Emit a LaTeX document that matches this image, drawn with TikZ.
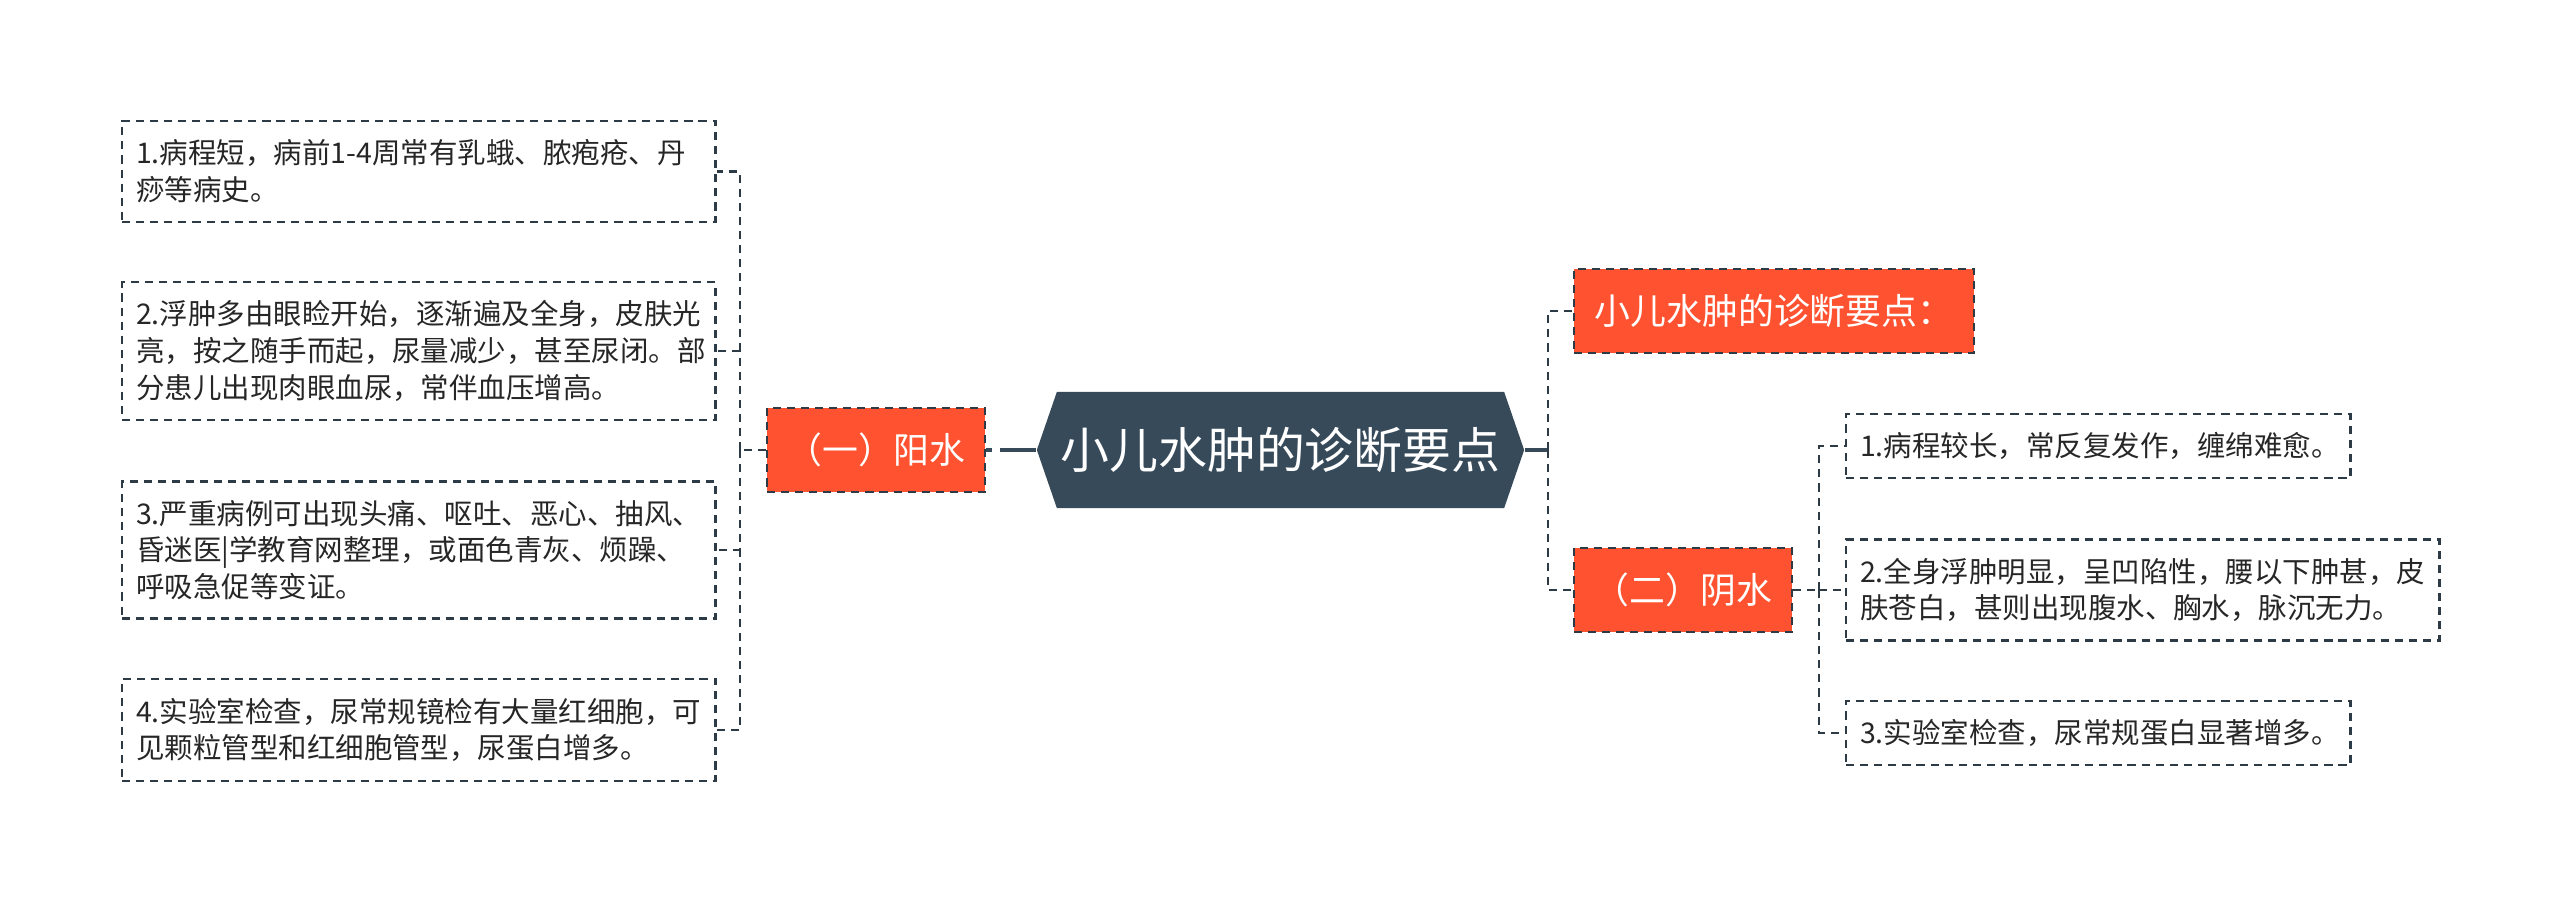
\documentclass[tikz,border=0pt]{standalone}
\usepackage{fontspec}
\newfontfamily\cjk{Noto Sans CJK SC}
\usepackage{tikz}
\usetikzlibrary{shapes.symbols, positioning}
\definecolor{hexfill}{HTML}{374A5A}
\definecolor{orangefill}{HTML}{FF5230}
\definecolor{linecol}{HTML}{2D3B47}
\definecolor{txtcol}{HTML}{262626}

\begin{document}
\begin{tikzpicture}[
    % GLOBAL CFG
    x=0.01cm, y=-0.01cm,
    % Styles
    dashpat/.style={% dashes of boxes and links
        dash pattern=on 2.3pt off 1.7pt
        },
    topic/.style={% the central hexagon
        signal,
        signal to=west and east,
        signal pointer angle=142,
        fill=hexfill,
        text=white,
        minimum width=4.87cm,
        minimum height=1.16cm,
        inner sep=0pt,
        font=\cjk\fontsize{13.9}{16}\selectfont
        },
    branch/.style={% orange sub topics
        rectangle,
        fill=orangefill,
        draw=linecol,
        line width=0.65pt,
        dashpat,
        text=white,
        minimum height=0.84cm,
        inner xsep=0.19cm,
        font=\cjk\fontsize{10.2}{12}\selectfont
        },
    leaf/.style={% dashed text boxes
        rectangle,
        draw=linecol,
        line width=0.65pt,
        dashpat,
        text=txtcol,
        align=left,
        anchor=west,
        inner xsep=0.14cm,
        inner ysep=0pt,
        font=\cjk\fontsize{8.1}{10.44}\selectfont
        },
    link/.style={% dashed connectors
        draw=linecol,
        line width=0.65pt,
        dashpat
        },
    thicklink/.style={% connectors at the central topic
        draw=hexfill,
        line width=1.1pt
        }
    ]

    \useasboundingbox (0,0) rectangle (2560,901);

    % Central topic
    \node [topic] (topic) at (1280.5,450) {小儿水肿的诊断要点};

    % Sub topics
    \node [branch, minimum width=2.18cm] (yang) at (876,450) {（一）阳水};
    \node [branch, minimum width=4.0cm] (note) at (1774,311) {小儿水肿的诊断要点：};
    \node [branch, minimum width=2.18cm] (yin) at (1683,590) {（二）阴水};

    % Left boxes named lbox#
    \node [leaf, text width=5.65cm, minimum height=1.01cm] (lbox1) at (121,171.5) {1.病程短，病前1-4周常有乳蛾、脓疱疮、丹\\痧等病史。};
    \node [leaf, text width=5.65cm, minimum height=1.38cm] (lbox2) at (121,351) {2.浮肿多由眼睑开始，逐渐遍及全身，皮肤光\\亮，按之随手而起，尿量减少，甚至尿闭。部\\分患儿出现肉眼血尿，常伴血压增高。};
    \node [leaf, text width=5.65cm, minimum height=1.37cm] (lbox3) at (121,550) {3.严重病例可出现头痛、呕吐、恶心、抽风、\\昏迷医|学教育网整理，或面色青灰、烦躁、\\呼吸急促等变证。};
    \node [leaf, text width=5.65cm, minimum height=1.02cm] (lbox4) at (121,730) {4.实验室检查，尿常规镜检有大量红细胞，可\\见颗粒管型和红细胞管型，尿蛋白增多。};

    % Right boxes named rbox#
    \node [leaf, text width=4.76cm, minimum height=0.64cm] (rbox1) at (1845,446) {1.病程较长，常反复发作，缠绵难愈。};
    \node [leaf, text width=5.65cm, minimum height=1.01cm] (rbox2) at (1845,590) {2.全身浮肿明显，呈凹陷性，腰以下肿甚，皮\\肤苍白，甚则出现腹水、胸水，脉沉无力。};
    \node [leaf, text width=4.76cm, minimum height=0.64cm] (rbox3) at (1845,733) {3.实验室检查，尿常规蛋白显著增多。};

    % Junctions
    \coordinate (lj) at (740,450);
    \coordinate (rj) at (1548,450);
    \coordinate (rj2) at (1819,590);

% Connecting all
    % Left side
    \draw [thicklink, dash pattern=on 1.7pt off 2.3pt on 20pt off 0pt] (yang.east) -- (topic.west);
    \draw [link] (yang.west) -- (lj);
    \foreach \i in {1,...,4}
        \draw [link] (lj) |- (lbox\i.east);

    % Right side
    \draw [thicklink] (topic.east) -- (rj);
    \draw [link] (rj) |- (note.west);
    \draw [link] (rj) |- (yin.west);
    \draw [link] (yin.east) -- (rj2);
    \foreach \i in {1,2,3}
        \draw [link] (rj2) |- (rbox\i.west);

\end{tikzpicture}
\end{document}
